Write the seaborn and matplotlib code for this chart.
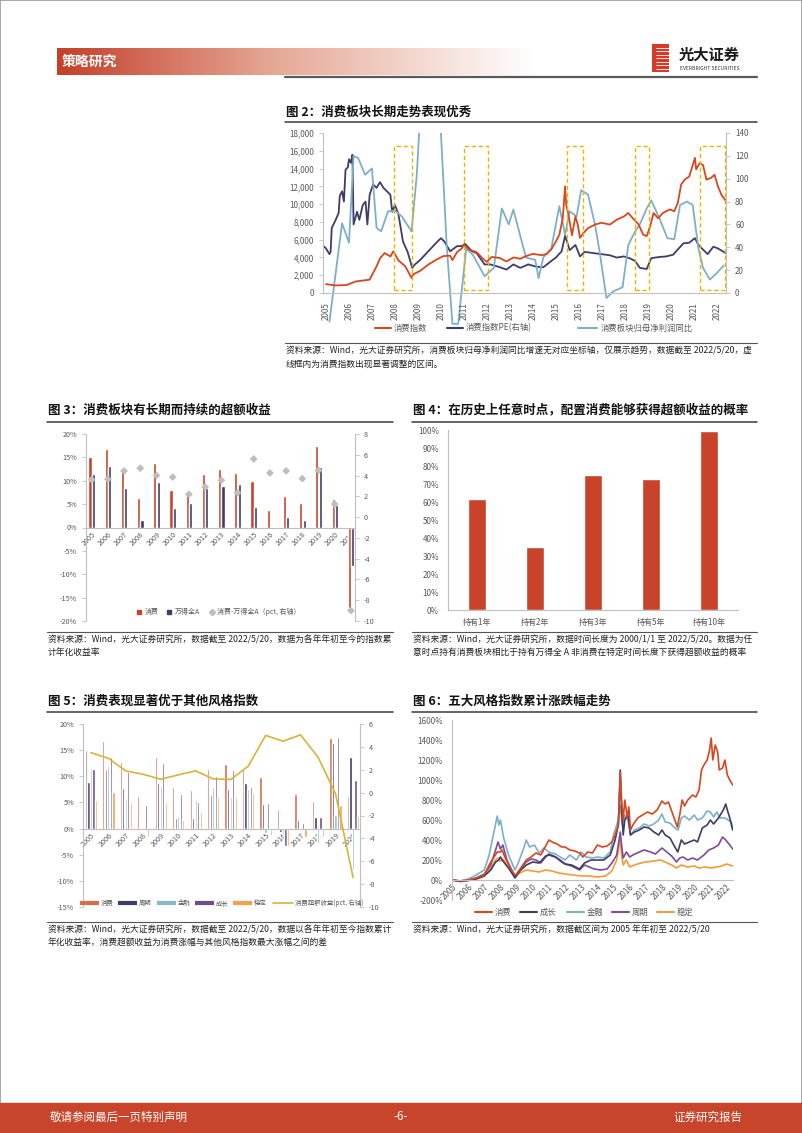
#---------------importing the libraries
import numpy as np
import pandas as pd
import matplotlib
matplotlib.use('Agg')
import matplotlib.pyplot as plt
from matplotlib.lines import Line2D
from matplotlib.patches import Rectangle
from matplotlib.colors import LinearSegmentedColormap
import seaborn as sns

#---------------data : fig 2 (consumer index, PE, net profit yoy)
f2_idx_t = [2005.0, 2005.4, 2005.9, 2006.3, 2006.9, 2007.2, 2007.35, 2007.55, 2007.8, 2007.93,
            2008.14, 2008.45, 2008.72, 2008.8, 2009.1, 2009.45, 2009.8, 2010.1, 2010.4, 2010.5,
            2010.7, 2010.9, 2011.0, 2011.25, 2011.55, 2011.85, 2012.0, 2012.2, 2012.55, 2012.85,
            2013.15, 2013.45, 2013.7, 2014.0, 2014.4, 2014.6, 2014.8, 2015.0, 2015.15, 2015.3,
            2015.4, 2015.45, 2015.55, 2015.7, 2015.85, 2015.95, 2016.05, 2016.2, 2016.4, 2016.7,
            2016.98, 2017.35, 2017.65, 2017.95, 2018.15, 2018.35, 2018.6, 2018.8, 2018.95, 2019.1,
            2019.25, 2019.45, 2019.65, 2019.95, 2020.15, 2020.3, 2020.45, 2020.6, 2020.8, 2021.05,
            2021.1, 2021.25, 2021.4, 2021.55, 2021.75, 2021.9, 2022.05, 2022.2, 2022.38]
f2_idx_v = [1000, 850, 900, 1300, 1500, 3000, 3900, 4500, 4100, 4700,
            3700, 3000, 1700, 2100, 2500, 3200, 3750, 4150, 4200, 3700,
            4600, 5000, 5400, 4850, 4600, 3800, 3500, 4050, 3950, 3550,
            4000, 3850, 4150, 4400, 4250, 4400, 4900, 5800, 6550, 8400,
            12000, 9900, 8800, 6500, 8600, 7700, 6200, 6750, 7300, 7700,
            7900, 7700, 8250, 8600, 9000, 8400, 7700, 6550, 6400, 7500,
            9000, 8400, 9000, 9400, 9200, 10100, 12200, 12750, 13100, 15200,
            13900, 14600, 14400, 12750, 12950, 13300, 12000, 11050, 10400]

f2_pe_t = [2004.9, 2005.0, 2005.15, 2005.2, 2005.25, 2005.4, 2005.55, 2005.6, 2005.7, 2005.78,
           2005.85, 2005.95, 2006.0, 2006.08, 2006.15, 2006.2, 2006.35, 2006.45, 2006.6, 2006.72,
           2006.8, 2006.9, 2007.05, 2007.2, 2007.35, 2007.5, 2007.65, 2007.8, 2007.88, 2008.0,
           2008.15, 2008.35, 2008.55, 2008.75, 2008.87, 2009.1, 2009.45, 2009.8, 2010.0, 2010.15,
           2010.4, 2010.7, 2010.9, 2011.05, 2011.35, 2011.55, 2011.9, 2012.15, 2012.5, 2012.85,
           2013.15, 2013.45, 2013.8, 2014.15, 2014.45, 2014.8, 2015.0, 2015.25, 2015.4, 2015.5,
           2015.6, 2015.85, 2016.05, 2016.25, 2016.6, 2016.98, 2017.35, 2017.65, 2017.95, 2018.2,
           2018.45, 2018.65, 2018.95, 2019.15, 2019.5, 2019.8, 2020.1, 2020.3, 2020.55, 2020.8,
           2021.05, 2021.2, 2021.4, 2021.6, 2021.85, 2022.05, 2022.38]
f2_pe_v = [41, 39, 34, 36, 57, 63, 70, 85, 89, 80,
           108, 110, 117, 114, 121, 60, 71, 64, 77, 80,
           60, 86, 95, 92, 97, 92, 89, 86, 71, 77,
           69, 45, 36, 22, 25, 29, 36.5, 44, 48, 45,
           36.5, 41, 41, 43, 36.5, 35, 25, 25, 23, 20.5,
           25, 22, 25, 23, 22.5, 28, 31, 36.5, 50, 44,
           37.5, 42, 32, 36, 35, 34, 33, 31, 32, 30.5,
           28, 22, 21, 30.5, 31.5, 32, 33.5, 38, 43.5, 44,
           48, 42, 38, 34, 40.5, 39, 35]

f2_np_t = [2005.15, 2005.7, 2006.0, 2006.2, 2006.4, 2006.7, 2007.0, 2007.2, 2007.4, 2007.7,
           2008.0, 2008.3, 2008.72, 2008.95, 2009.3, 2009.7, 2010.0, 2010.25, 2010.5, 2010.75,
           2011.1, 2011.4, 2011.9, 2012.3, 2012.65, 2012.95, 2013.15, 2013.7, 2014.1, 2014.25,
           2014.45, 2014.8, 2015.15, 2015.4, 2015.6, 2015.9, 2016.1, 2016.4, 2016.7, 2016.9,
           2017.2, 2017.5, 2017.9, 2018.15, 2018.45, 2018.65, 2018.95, 2019.15, 2019.5, 2019.85,
           2020.15, 2020.4, 2020.7, 2020.95, 2021.2, 2021.4, 2021.7, 2022.0, 2022.3]
f2_np_v = [-25, 61, 44, 120, 118, 103.5, 109, 57, 54, 71.5,
           72, 67, 54, 103.5, 230, 230, 140, 42, -27, -27,
           39, 33, 14.6, 22, 74, 60, 73, 31, 29, 13,
           31, 39, 76, 51, 71.5, 67, 90, 86, 60, 36.5,
           -4.4, 1.5, 5, 42, 54, 60, 74, 81, 65.6, 48,
           47, 77, 80, 77, 39, 22, 11.7, 17.5, 24]

f2_box_start = [2007.96, 2011.0, 2015.5, 2018.45, 2021.25]
f2_box_end = [2008.72, 2012.05, 2016.2, 2019.05, 2022.35]

#---------------data : fig 3
f3_years = list(range(2005, 2022))
f3_consumer = [15.1, 16.8, 12.8, 6.3, 13.8, 8.0, 7.5, 11.4, 12.5, 11.6, 9.9, 3.8, 6.7, 5.2, 17.4, 6.2, -17.2]
f3_wind_a = [11.5, 13.1, 8.4, 1.6, 9.7, 4.2, 5.3, 8.4, 8.9, 9.2, 4.3, -0.3, 2.2, 1.6, 12.9, 4.9, -8.2]
f3_diff = [3.6, 3.65, 4.45, 4.7, 4.0, 3.85, 2.2, 2.9, 3.55, 2.35, 5.6, 4.25, 4.45, 3.7, 4.5, 1.25, -9.0]

#---------------data : fig 4
f4_cats = ['持有1年', '持有2年', '持有3年', '持有5年', '持有10年']
f4_vals = [61.5, 35.2, 75.0, 72.6, 99.6]

#---------------data : fig 5
f5_years = list(range(2005, 2021))
f5_consumer = [15.0, 16.8, 12.8, 6.2, 13.7, 8.0, 7.4, 11.4, 12.4, 11.6, 9.9, 3.8, 6.6, 5.2, 17.4, 6.3]
f5_cycle = [9.0, 11.3, 7.7, -0.1, 8.8, 2.1, 2.1, 6.5, 7.5, 8.8, 4.7, -0.6, 1.6, 2.2, 16.3, 13.7]
f5_finance = [11.5, 12.0, 5.8, -0.1, 8.2, 2.4, 5.5, 7.9, 6.1, 7.6, -0.8, -1.0, 0.2, -2.8, 2.6, -8.0]
f5_growth = [11.4, 13.6, 10.8, 4.6, 12.6, 6.6, 5.0, 10.1, 11.2, 8.0, 4.8, -3.4, 1.0, 2.2, 17.6, 9.2]
f5_stable = [5.5, 7.0, 5.0, -1.6, 4.8, 1.7, 3.2, 6.0, 6.0, 6.8, -1.3, -3.4, -1.6, -1.6, 4.5, 2.5]
f5_excess = [3.5, 3.0, 1.9, 1.6, 1.17, 1.55, 1.9, 1.2, 1.15, 2.3, 5.0, 4.5, 5.05, 3.1, -0.1, -7.4]

#---------------data : fig 6 (cumulative return, %)
f6_cons_t = [2005.0, 2005.5, 2006.0, 2006.5, 2007.0, 2007.3, 2007.6, 2007.8, 2008.0, 2008.1,
             2008.3, 2008.6, 2008.9, 2009.0, 2009.3, 2009.6, 2009.9, 2010.2, 2010.5, 2010.8,
             2011.0, 2011.2, 2011.5, 2011.8, 2012.0, 2012.3, 2012.6, 2012.9, 2013.1, 2013.4,
             2013.7, 2014.0, 2014.3, 2014.6, 2014.9, 2015.1, 2015.3, 2015.42, 2015.5, 2015.6,
             2015.7, 2015.85, 2015.95, 2016.05, 2016.2, 2016.5, 2016.8, 2017.1, 2017.4, 2017.7,
             2018.0, 2018.2, 2018.4, 2018.6, 2018.8, 2018.95, 2019.1, 2019.25, 2019.4, 2019.6,
             2019.9, 2020.1, 2020.3, 2020.45, 2020.6, 2020.8, 2020.95, 2021.05, 2021.15, 2021.3,
             2021.45, 2021.55, 2021.75, 2021.9, 2022.05, 2022.2, 2022.38]
f6_cons_v = [0, -10, 0, 20, 50, 150, 230, 280, 280, 300,
             220, 120, 50, 60, 130, 200, 230, 270, 250, 340,
             400, 380, 360, 330, 330, 300, 290, 270, 230, 280,
             270, 350, 330, 340, 380, 450, 550, 1080, 800, 600,
             800, 630, 730, 500, 550, 620, 650, 680, 660, 700,
             790, 760, 780, 690, 600, 530, 650, 800, 740, 800,
             850, 830, 900, 1100, 1150, 1200, 1300, 1420, 1200, 1350,
             1280, 1100, 1120, 1200, 1050, 1000, 950]

f6_grow_t = [2005.0, 2005.5, 2006.0, 2006.5, 2007.0, 2007.4, 2007.7, 2007.9, 2008.0, 2008.2,
             2008.5, 2008.9, 2009.2, 2009.6, 2010.0, 2010.4, 2010.8, 2011.0, 2011.4, 2011.8,
             2012.0, 2012.4, 2012.9, 2013.2, 2013.6, 2014.0, 2014.4, 2014.8, 2015.1, 2015.3,
             2015.42, 2015.5, 2015.6, 2015.7, 2015.9, 2016.05, 2016.3, 2016.6, 2016.9, 2017.2,
             2017.5, 2017.8, 2018.0, 2018.2, 2018.5, 2018.8, 2018.98, 2019.2, 2019.4, 2019.7,
             2020.0, 2020.2, 2020.5, 2020.8, 2021.0, 2021.2, 2021.5, 2021.8, 2021.95, 2022.05,
             2022.2, 2022.38]
f6_grow_v = [0, -15, -5, 10, 40, 100, 180, 200, 230, 180,
             120, 20, 90, 150, 180, 170, 240, 250, 230, 180,
             160, 150, 110, 170, 200, 200, 200, 250, 400, 550,
             1100, 700, 450, 600, 650, 450, 480, 500, 530, 520,
             480, 450, 500, 450, 420, 330, 280, 400, 360, 380,
             400, 380, 520, 550, 600, 560, 620, 700, 760, 700,
             620, 500]

f6_fin_t = [2005.0, 2005.5, 2006.0, 2006.5, 2007.0, 2007.3, 2007.6, 2007.8, 2007.9, 2008.0,
            2008.2, 2008.5, 2008.9, 2009.1, 2009.4, 2009.6, 2009.8, 2010.1, 2010.4, 2010.7,
            2011.0, 2011.4, 2011.8, 2012.0, 2012.3, 2012.7, 2013.0, 2013.3, 2013.7, 2014.0,
            2014.4, 2014.8, 2015.0, 2015.3, 2015.42, 2015.55, 2015.7, 2015.9, 2016.05, 2016.3,
            2016.6, 2016.9, 2017.2, 2017.5, 2017.8, 2018.0, 2018.2, 2018.5, 2018.8, 2019.0,
            2019.2, 2019.4, 2019.7, 2020.0, 2020.2, 2020.5, 2020.8, 2021.0, 2021.2, 2021.4,
            2021.6, 2021.9, 2022.1, 2022.3, 2022.38]
f6_fin_v = [0, -10, 10, 50, 100, 250, 480, 640, 550, 600,
            420, 250, 100, 170, 300, 400, 330, 350, 270, 320,
            280, 260, 220, 200, 250, 200, 280, 230, 220, 230,
            220, 280, 450, 600, 750, 550, 650, 600, 450, 500,
            520, 560, 540, 560, 600, 660, 580, 570, 520, 500,
            620, 640, 600, 650, 600, 620, 690, 680, 630, 680,
            620, 620, 600, 580, 520]

f6_cyc_t = [2005.0, 2005.5, 2006.0, 2006.5, 2007.0, 2007.4, 2007.7, 2007.85, 2008.0, 2008.15,
            2008.4, 2008.7, 2008.9, 2009.2, 2009.6, 2009.9, 2010.2, 2010.5, 2010.8, 2011.0,
            2011.3, 2011.7, 2012.0, 2012.4, 2012.9, 2013.2, 2013.5, 2013.8, 2014.2, 2014.6,
            2014.9, 2015.2, 2015.42, 2015.5, 2015.6, 2015.8, 2016.0, 2016.2, 2016.6, 2016.9,
            2017.3, 2017.6, 2018.0, 2018.3, 2018.6, 2018.9, 2019.1, 2019.3, 2019.6, 2019.9,
            2020.2, 2020.6, 2020.9, 2021.2, 2021.5, 2021.75, 2021.95, 2022.2, 2022.38]
f6_cyc_v = [0, -10, 0, 20, 60, 150, 300, 380, 310, 350,
            200, 100, 30, 100, 180, 210, 200, 170, 230, 260,
            240, 200, 160, 140, 100, 150, 130, 110, 100, 110,
            170, 250, 480, 350, 220, 280, 230, 250, 280, 300,
            280, 260, 320, 280, 240, 180, 220, 230, 200, 220,
            200, 250, 300, 320, 350, 430, 400, 350, 310]

f6_stab_t = [2005.0, 2005.5, 2006.0, 2006.5, 2007.0, 2007.4, 2007.7, 2007.85, 2008.0, 2008.2,
             2008.5, 2008.9, 2009.2, 2009.6, 2010.0, 2010.4, 2010.8, 2011.2, 2011.6, 2012.0,
             2012.5, 2013.0, 2013.5, 2014.0, 2014.5, 2014.9, 2015.2, 2015.42, 2015.5, 2015.6,
             2015.8, 2016.0, 2016.3, 2016.7, 2017.0, 2017.5, 2017.9, 2018.2, 2018.6, 2018.9,
             2019.2, 2019.6, 2020.0, 2020.3, 2020.7, 2021.0, 2021.4, 2021.7, 2022.0, 2022.2,
             2022.38]
f6_stab_v = [0, -10, -5, 10, 40, 120, 200, 220, 190, 200,
             120, 40, 70, 100, 90, 80, 100, 90, 70, 60,
             50, 40, 40, 30, 40, 90, 200, 410, 250, 150,
             200, 130, 150, 170, 180, 190, 200, 180, 150, 120,
             150, 130, 140, 120, 130, 120, 130, 140, 160, 150,
             140]

#---------------colours
RED_LINE = '#D8461F'
RED_BAR = '#C8432A'
NAVY = '#3E3C69'
CYAN = '#7DB0C8'
GREY_PT = '#BEBEBE'
C5_RED = '#DC6B4A'
C5_BLUE = '#88B6CF'
PURPLE = '#6C4C8E'
ORANGE = '#F3A04E'
GOLD = '#D6B43A'
PURPLE6 = '#7E4C97'
ORANGE6 = '#F5993A'
TXT = '#595959'
AX_GREY = '#BFBFBF'

W, H = 802, 1133

sns.set_style('white')
plt.rcParams['font.family'] = ['Noto Sans CJK SC', 'DejaVu Sans']
plt.rcParams['axes.unicode_minus'] = False

fig = plt.figure(figsize=(W / 100, H / 100), dpi=100)


#------------helpers working in pixel units of the page
def add_ax(x0, y0, x1, y1):
    return fig.add_axes([x0 / W, 1 - y1 / H, (x1 - x0) / W, (y1 - y0) / H])


def ftext(x, y, s, **kw):
    kw.setdefault('va', 'center')
    fig.text(x / W, 1 - y / H, s, **kw)


def hline(x0, x1, y, color='#404040', lw=1.0):
    fig.add_artist(Line2D([x0 / W, x1 / W], [1 - y / H, 1 - y / H], color=color, lw=lw))


def legend_item(x, y, handle, label, hl=2.0, size=6.0):
    fig.legend([handle], [label], loc='center left', bbox_to_anchor=(x / W, 1 - y / H),
               frameon=False, fontsize=size, handlelength=hl, handletextpad=0.4,
               borderpad=0, borderaxespad=0, labelcolor=TXT)


def style_axis(ax, show=('left', 'bottom'), size=5.8, zero_x=False):
    # spine position first : moving a spine resets the tick labels
    if zero_x:
        ax.spines['bottom'].set_position(('data', 0))
    for s in ax.spines:
        ax.spines[s].set_visible(s in show)
        ax.spines[s].set_color(AX_GREY)
        ax.spines[s].set_linewidth(0.8)
    ax.tick_params(labelsize=size, labelcolor=TXT, color=AX_GREY, length=3, width=0.6, direction='out')
    ax.set_xlabel('')
    ax.set_ylabel('')


def year_labels(ax, years, rot=45):
    ax.set_xticks(years)
    ax.set_xticklabels([str(y) for y in years], rotation=rot, ha='right', rotation_mode='anchor')
    ax.tick_params(axis='x', length=0, pad=2)


def fig_block(x0, x1, y_title, y_rule, title, y_src_rule, src_lines):
    ftext(x0 + 1, y_title, title, fontsize=9, fontweight='bold', color='#111111')
    hline(x0, x1, y_rule, color='#3A3A3A', lw=1.1)
    hline(x0, x1, y_src_rule, color='#555555', lw=0.8)
    for i, s in enumerate(src_lines):
        ftext(x0 + 1, y_src_rule + 8 + 13 * i, s, fontsize=6.3, color='#222222')


#------------page frame, header and footer
fig.add_artist(Rectangle((0, 0), 1, 1, transform=fig.transFigure, fill=False, ec='#9A9A9A', lw=1.2))

band = add_ax(57, 48, 535, 75)
cmap_band = LinearSegmentedColormap.from_list('band', [(0, '#C4402A'), (0.45, '#E5A795'), (1, '#FFFFFF')])
band.imshow(np.linspace(0, 1, 256).reshape(1, -1), aspect='auto', cmap=cmap_band)
band.axis('off')
ftext(62, 61.5, '策略研究', fontsize=10, fontweight='bold', color='white')
hline(285, 757, 76.5, color='#5A5A5A', lw=1.6)

logo = add_ax(652, 44, 669, 72)
logo.add_patch(Rectangle((0, 0), 1, 1, color='#D83A2A'))
for k in range(1, 8):
    logo.axhline(k / 8, color='white', lw=0.6, xmin=0.25, xmax=1)
logo.set_xlim(0, 1)
logo.set_ylim(0, 1)
logo.axis('off')
ftext(679, 55, '光大证券', fontsize=11, fontweight='bold', color='#1A1A1A')
ftext(680, 68, 'EVERBRIGHT SECURITIES', fontsize=3.6, color='#333333')

fig.add_artist(Rectangle((0, 0), 1, (H - 1103) / H, transform=fig.transFigure, color='#C8442B'))
ftext(50, 1117, '敬请参阅最后一页特别声明', fontsize=8.3, color='white')
ftext(401, 1117, '-6-', fontsize=8.3, color='white', ha='center')
ftext(673, 1117, '证券研究报告', fontsize=8.3, color='white')

#------------fig 2 : consumer index vs PE vs profit growth
fig_block(285, 757, 112, 122, '图 2：消费板块长期走势表现优秀', 343,
          ['资料来源：Wind，光大证券研究所，消费板块归母净利润同比增速无对应坐标轴，仅展示趋势，数据截至 2022/5/20，虚',
           '线框内为消费指数出现显著调整的区间。'])

ax = add_ax(323, 133, 726, 293)
ax2 = ax.twinx()
sns.lineplot(x=f2_pe_t, y=f2_pe_v, ax=ax2, color=NAVY, lw=1.3)
sns.lineplot(x=f2_np_t, y=f2_np_v, ax=ax2, color=CYAN, lw=1.3)
ax2.lines[-1].set_clip_path(Rectangle((0, -0.22), 1, 1.22, transform=ax2.transAxes))
sns.lineplot(x=f2_idx_t, y=f2_idx_v, ax=ax, color=RED_LINE, lw=1.3)
for a, b in zip(f2_box_start, f2_box_end):
    ax.add_patch(Rectangle((a, 300), b - a, 16200, fill=False, ec='#E8B400', lw=1.0,
                           ls=(0, (3, 2)), zorder=5))
ax.set_zorder(ax2.get_zorder() + 1)
ax.patch.set_visible(False)
style_axis(ax, ('left', 'bottom'), size=5.8)
style_axis(ax2, ('right',), size=5.8)
ax.set_xlim(2004.87, 2022.4)
ax.set_ylim(0, 18000)
ax.set_yticks(range(0, 18001, 2000))
ax.set_yticklabels([f'{v:,}' for v in range(0, 18001, 2000)])
ax.set_xticks(range(2005, 2023))
ax.set_xticklabels([str(y) for y in range(2005, 2023)], rotation=90)
ax2.set_ylim(0, 140)
ax2.set_yticks(range(0, 141, 20))

legend_item(375, 328, Line2D([], [], color=RED_LINE, lw=1.5), '消费指数', hl=1.9)
legend_item(447, 328, Line2D([], [], color=NAVY, lw=1.5), '消费指数PE(右轴)', hl=1.9)
legend_item(578, 328, Line2D([], [], color=CYAN, lw=1.5), '消费板块归母净利润同比', hl=2.3)

#------------fig 3 : yearly excess return
fig_block(47, 393, 410, 422, '图 3：消费板块有长期而持续的超额收益', 632,
          ['资料来源：Wind，光大证券研究所，数据截至 2022/5/20，数据为各年年初至今的指数累',
           '计年化收益率'])

df3 = pd.DataFrame({'year': f3_years * 2,
                    'value': f3_consumer + f3_wind_a,
                    'series': ['消费'] * len(f3_years) + ['万得全A'] * len(f3_years)})
ax = add_ax(86, 434, 355, 621)
sns.barplot(data=df3, x='year', y='value', hue='series', native_scale=True,
            palette=[RED_BAR, NAVY], width=0.42, gap=0.1, saturation=1,
            errorbar=None, legend=False, ax=ax)
ax.set_axisbelow(True)
style_axis(ax, ('left', 'bottom'), size=5.2, zero_x=True)
ax.set_xlim(2004.65, 2021.25)
ax.set_ylim(-20, 20)
ax.set_yticks(range(-20, 21, 5))
ax.set_yticklabels([f'{v}%' for v in range(-20, 21, 5)])
year_labels(ax, f3_years)
ax2 = ax.twinx()
sns.scatterplot(x=f3_years, y=f3_diff, marker='D', color=GREY_PT, s=16, edgecolor='none',
                legend=False, ax=ax2)
style_axis(ax2, ('right',), size=5.2)
ax2.set_ylim(-10, 8)
ax2.set_yticks(range(-10, 9, 2))

legend_item(136, 612, Line2D([], [], marker='s', ls='none', color=RED_BAR, ms=3.2), '消费', hl=0.8, size=5)
legend_item(166, 612, Line2D([], [], marker='s', ls='none', color=NAVY, ms=3.2), '万得全A', hl=0.8, size=5)
legend_item(209, 612, Line2D([], [], marker='D', ls='none', color=GREY_PT, ms=3.2),
            '消费-万得全A（pct, 右轴）', hl=0.8, size=5)

#------------fig 4 : probability of excess return
fig_block(412, 757, 410, 422, '图 4：在历史上任意时点，配置消费能够获得超额收益的概率', 632,
          ['资料来源：Wind，光大证券研究所，数据时间长度为 2000/1/1 至 2022/5/20。数据为任',
           '意时点持有消费板块相比于持有万得全 A 非消费在特定时间长度下获得超额收益的概率'])

ax = add_ax(448, 430, 738, 610)
sns.barplot(x=f4_cats, y=f4_vals, color=RED_BAR, width=0.32, saturation=1, errorbar=None, ax=ax)
style_axis(ax, ('left', 'bottom'), size=5.8)
ax.set_xlim(-0.5, 4.5)
ax.set_ylim(0, 100)
ax.set_yticks(range(0, 101, 10))
ax.set_yticklabels([f'{v}%' for v in range(0, 101, 10)])
ax.tick_params(axis='x', length=0, pad=6, labelsize=5.8)

#------------fig 5 : style indices yearly return
fig_block(47, 393, 701, 712, '图 5：消费表现显著优于其他风格指数', 922,
          ['资料来源：Wind，光大证券研究所，数据截至 2022/5/20，数据以各年年初至今指数累计',
           '年化收益率，消费超额收益为消费涨幅与其他风格指数最大涨幅之间的差'])

f5_names = ['消费', '周期', '金融', '成长', '稳定']
f5_cols = [C5_RED, NAVY, C5_BLUE, PURPLE, ORANGE]
df5 = pd.DataFrame({'year': f5_years * 5,
                    'value': f5_consumer + f5_cycle + f5_finance + f5_growth + f5_stable,
                    'series': [n for n in f5_names for _ in f5_years]})
ax = add_ax(83, 724, 360, 907)
sns.barplot(data=df5, x='year', y='value', hue='series', native_scale=True,
            palette=f5_cols, width=0.72, gap=0.08, saturation=1,
            errorbar=None, legend=False, ax=ax)
style_axis(ax, ('left', 'bottom'), size=5.2, zero_x=True)
ax.set_xlim(2004.55, 2020.4)
ax.set_ylim(-15, 20)
ax.set_yticks(range(-15, 21, 5))
ax.set_yticklabels([f'{v}%' for v in range(-15, 21, 5)])
year_labels(ax, f5_years)
ax2 = ax.twinx()
sns.lineplot(x=f5_years, y=f5_excess, color=GOLD, lw=1.2, ax=ax2)
style_axis(ax2, ('right',), size=5.2)
ax2.set_ylim(-10, 6)
ax2.set_yticks(range(-10, 7, 2))

for xx, n, c in zip([80, 118, 157, 195, 233], f5_names, f5_cols):
    legend_item(xx, 903, Line2D([], [], color=c, lw=3, solid_capstyle='butt'), n, hl=2.9, size=4.6)
legend_item(273, 903, Line2D([], [], color=GOLD, lw=1.2), '消费超额收益(pct, 右轴)', hl=3.1, size=4.6)

#------------fig 6 : cumulative return of the five style indices
fig_block(412, 757, 701, 712, '图 6：五大风格指数累计涨跌幅走势', 922,
          ['资料来源：Wind，光大证券研究所，数据截区间为 2005 年年初至 2022/5/20'])

ax = add_ax(452, 720, 733, 900)
sns.lineplot(x=f6_stab_t, y=f6_stab_v, color=ORANGE6, lw=1.2, ax=ax)
sns.lineplot(x=f6_cyc_t, y=f6_cyc_v, color=PURPLE6, lw=1.2, ax=ax)
sns.lineplot(x=f6_fin_t, y=f6_fin_v, color=CYAN, lw=1.2, ax=ax)
sns.lineplot(x=f6_grow_t, y=f6_grow_v, color=NAVY, lw=1.2, ax=ax)
sns.lineplot(x=f6_cons_t, y=f6_cons_v, color=RED_LINE, lw=1.2, ax=ax)
style_axis(ax, ('left', 'bottom'), size=5.8, zero_x=True)
ax.set_xlim(2005, 2022.4)
ax.set_ylim(-200, 1600)
ax.set_yticks(range(-200, 1601, 200))
ax.set_yticklabels([f'{v}%' for v in range(-200, 1601, 200)])
year_labels(ax, list(range(2005, 2023)))

for xx, n, c in zip([475, 520, 567, 612, 657], ['消费', '成长', '金融', '周期', '稳定'],
                    [RED_LINE, NAVY, CYAN, PURPLE6, ORANGE6]):
    legend_item(xx, 912, Line2D([], [], color=c, lw=1.5), n, hl=2.0)

fig.savefig('out.png', dpi=100)
